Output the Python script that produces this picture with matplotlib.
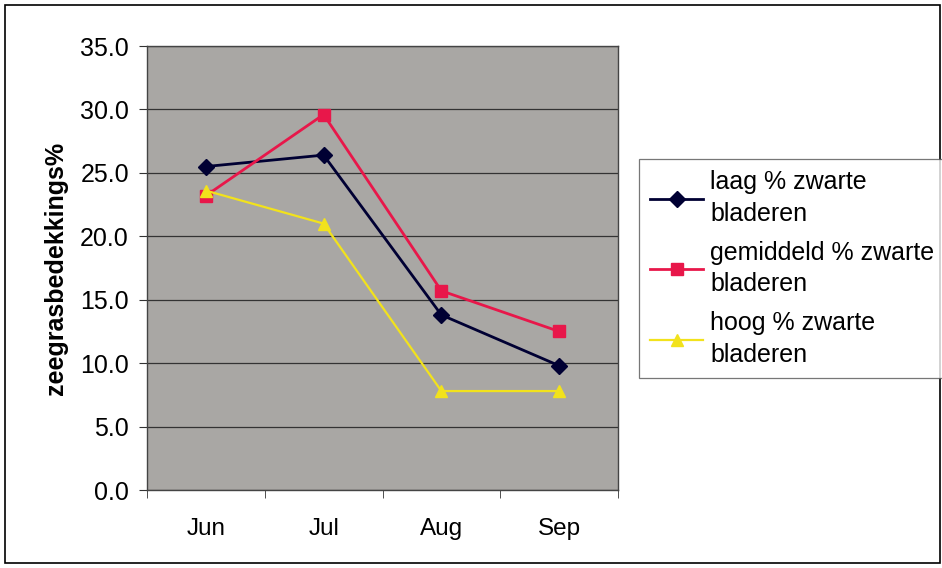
import matplotlib
matplotlib.use("Agg")
import matplotlib.pyplot as plt
from matplotlib.patches import Rectangle
import numpy as np

plt.rcParams['font.family'] = ['Liberation Sans', 'DejaVu Sans']

months = ["Jun", "Jul", "Aug", "Sep"]
laag = [25.5, 26.4, 13.8, 9.8]
gemiddeld = [23.2, 29.6, 15.7, 12.5]
hoog = [23.6, 21.0, 7.8, 7.8]
labels = ["laag % zwarte\nbladeren", "gemiddeld % zwarte\nbladeren", "hoog % zwarte\nbladeren"]
yticks = [0, 5, 10, 15, 20, 25, 30, 35]

W, H = 942, 568
FS = 18
fig = plt.figure(figsize=(W / 100, H / 100), dpi=100)
fig.patch.set_facecolor("white")
fig.add_artist(Rectangle((5 / W, 5 / H), 935 / W, 558 / H, transform=fig.transFigure,
                         fill=False, edgecolor="black", linewidth=1.2))

ax = fig.add_axes([147 / W, 1 - 490 / H, 471 / W, 444 / H])
ax.set_facecolor("#a9a7a4")
x = np.arange(len(months))
ax.plot(x, laag, color="#000033", marker="D", markersize=8, linewidth=2.0, label=labels[0], zorder=3)
ax.plot(x, gemiddeld, color="#e8174a", marker="s", markersize=8, linewidth=2.0, label=labels[1], zorder=3)
ax.plot(x, hoog, color="#f2e21c", marker="^", markersize=9, linewidth=1.6, label=labels[2], zorder=3)

ax.set_xlim(-0.5, 3.5)
ax.set_ylim(0, 35)
ax.set_yticks(yticks)
ax.set_yticklabels([f"{v:.1f}" for v in yticks], fontsize=FS)
ax.yaxis.grid(True, color="#333333", linewidth=0.9)
ax.set_axisbelow(True)
ax.set_xticks(x)
ax.set_xticklabels(months, fontsize=17.5)
ax.set_xticks(np.arange(-0.5, 4, 1), minor=True)
ax.tick_params(axis="x", which="major", length=0, pad=20)
ax.tick_params(axis="x", which="minor", length=6, direction="out", color="#333333")
ax.tick_params(axis="y", length=6, direction="out", color="#333333", pad=7)
for s in ax.spines.values():
    s.set_color("#444444")
    s.set_linewidth(1.0)
ax.set_ylabel("zeegrasbedekkings%", fontsize=FS, fontweight="bold", labelpad=9)

leg = fig.legend(loc="upper left", bbox_to_anchor=(639 / W, 1 - 159 / H), fontsize=FS,
                 frameon=True, fancybox=False, edgecolor="#555555", handlelength=2.1,
                 handletextpad=0.3, labelspacing=0.6, borderpad=0.45, borderaxespad=0)
leg.get_frame().set_linewidth(0.9)
for t in leg.get_texts():
    t.set_linespacing(1.4)

fig.savefig("out.png", dpi=100, facecolor="white")
